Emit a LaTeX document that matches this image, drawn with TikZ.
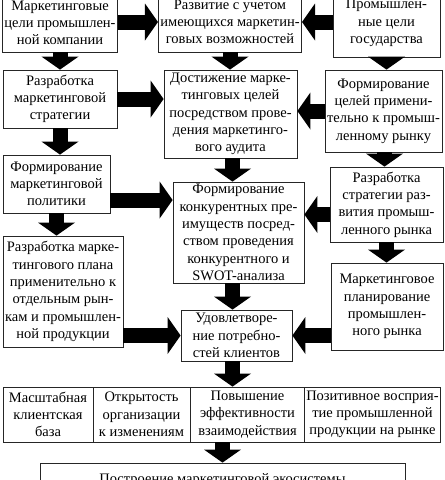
\documentclass[tikz,border=0pt]{standalone}
\usepackage{fontspec}
\setmainfont{Liberation Serif}
\usepackage{tikz}
\usetikzlibrary{arrows.meta, calc}
\tikzset{
    box/.style={rectangle, draw=black!85, line width=0.8pt, fill=white, align=center,
        inner xsep=2pt, inner ysep=2pt, font=\fontsize{14.5}{17.3}\selectfont},
    sz/.style 2 args={minimum width=#1pt, minimum height=#2pt},
    bigarrow/.style={line width=15pt, black,
        -{Triangle[length=13pt, width=37pt, line width=0pt]}},
}

\begin{document}
\begin{tikzpicture}[x=1pt, y=-1pt]
    \clip (0,0) rectangle (445,480);
    % top row
    \node[box, sz={114}{58}] (lft1) at (60,23) {Маркетинговые\\цели промышлен-\\ной компании};
    \node[box, sz={134}{60}] (mid1) at (230,22) {Развитие с учетом\\имеющихся маркетин-\\говых возможностей};
    \node[box, sz={107}{68}] (rgt1) at (386.5,23) {Промышлен-\\ные цели\\государства};
    % second row
    \node[box, sz={114}{58}] (lft2) at (60,99) {Разработка\\маркетинговой\\стратегии};
    \node[box, sz={133}{88}] (mid2) at (230.5,114) {Достижение марке-\\тинговых целей\\посредством прове-\\дения маркетинго-\\вого аудита};
    \node[box, sz={117}{82}] (rgt2) at (383.5,111) {Формирование\\целей примени-\\тельно к промыш-\\ленному рынку};
    % third row
    \node[box, sz={107}{58}] (lft3) at (56.5,184) {Формирование\\маркетинговой\\политики};
    \node[box, sz={131}{101}] (mid3) at (238.5,232.5) {Формирование\\конкурентных пре-\\имуществ посред-\\ством проведения\\конкурентного и\\SWOT-анализа};
    \node[box, sz={113}{75}] (rgt3) at (386.5,204.5) {Разработка\\стратегии раз-\\вития промыш-\\ленного рынка};
    % fourth row
    \node[box, sz={120}{111}] (lft4) at (63,291.5) {Разработка марке-\\тингового плана\\применительно к\\отдельным рын-\\кам и промышлен-\\ной продукции};
    \node[box, sz={111}{51}] (mid4) at (236.5,335.5) {Удовлетворе-\\ние потребно-\\стей клиентов};
    \node[box, sz={112}{87}] (rgt4) at (387,306.5) {Маркетинговое\\планирование\\промышлен-\\ного рынка};
    % results
    \node[box, sz={90}{55}] (res1) at (48,414.5) {Масштабная\\клиентская\\база};
    \node[box, sz={97}{55}] (res2) at (141.5,414.5) {Открытость\\организации\\к изменениям};
    \node[box, sz={115}{55}] (res3) at (247.5,414.5) {Повышение\\эффективности\\взаимодействия};
    \node[box, sz={135}{55}] (res4) at (372.5,414.5) {Позитивное восприя-\\тие промышленной\\продукции на рынке};
    \node[box, sz={365}{34}] (eco) at (222.5,480) {Построение маркетинговой экосистемы};

    % arrows
    \draw[bigarrow] (lft1.east |- mid1.west) -- (mid1.west);
    \draw[bigarrow] (rgt1.west |- mid1.east) -- (mid1.east);
    \draw[bigarrow] (lft2.east) -- (lft2.east -| mid2.west);
    \draw[bigarrow] (rgt2.west) -- (rgt2.west -| mid2.east);
    \draw[bigarrow] ([yshift=-16pt]lft3.east) -- ([yshift=-16pt]lft3.east -| mid3.west);
    \draw[bigarrow] ([yshift=-10pt]rgt3.west) -- ([yshift=-10pt]rgt3.west -| mid3.east);
    \draw[bigarrow] (lft4.east |- mid4.west) -- (mid4.west);
    \draw[bigarrow] (rgt4.west |- mid4.east) -- (mid4.east);
    \draw[bigarrow] (lft1.south) -- (lft1.south |- lft2.north);
    \draw[bigarrow] (lft2.south) -- (lft2.south |- lft3.north);
    \draw[bigarrow] (lft3.south) -- (lft3.south |- lft4.north);
    \draw[bigarrow] (mid1.south) -- (mid1.south |- mid2.north);
    \draw[bigarrow] ([xshift=2pt]mid2.south) -- ([xshift=2pt]mid2.south |- mid3.north);
    \draw[bigarrow] ([xshift=-6pt]mid3.south) -- ([xshift=-6pt]mid3.south |- mid4.north);
    \draw[bigarrow] ([xshift=-4pt]mid4.south) -- ([xshift=-4pt]mid4.south |- res3.north);
    \draw[bigarrow] (rgt1.south) -- (rgt1.south |- rgt2.north);
    \draw[bigarrow] ([xshift=1pt]rgt2.south) -- ([xshift=1pt]rgt2.south |- rgt3.north);
    \draw[bigarrow] (rgt3.south) -- (rgt3.south |- rgt4.north);
    \draw[bigarrow] (eco.north |- res3.south) -- (eco.north);
\end{tikzpicture}
\end{document}
